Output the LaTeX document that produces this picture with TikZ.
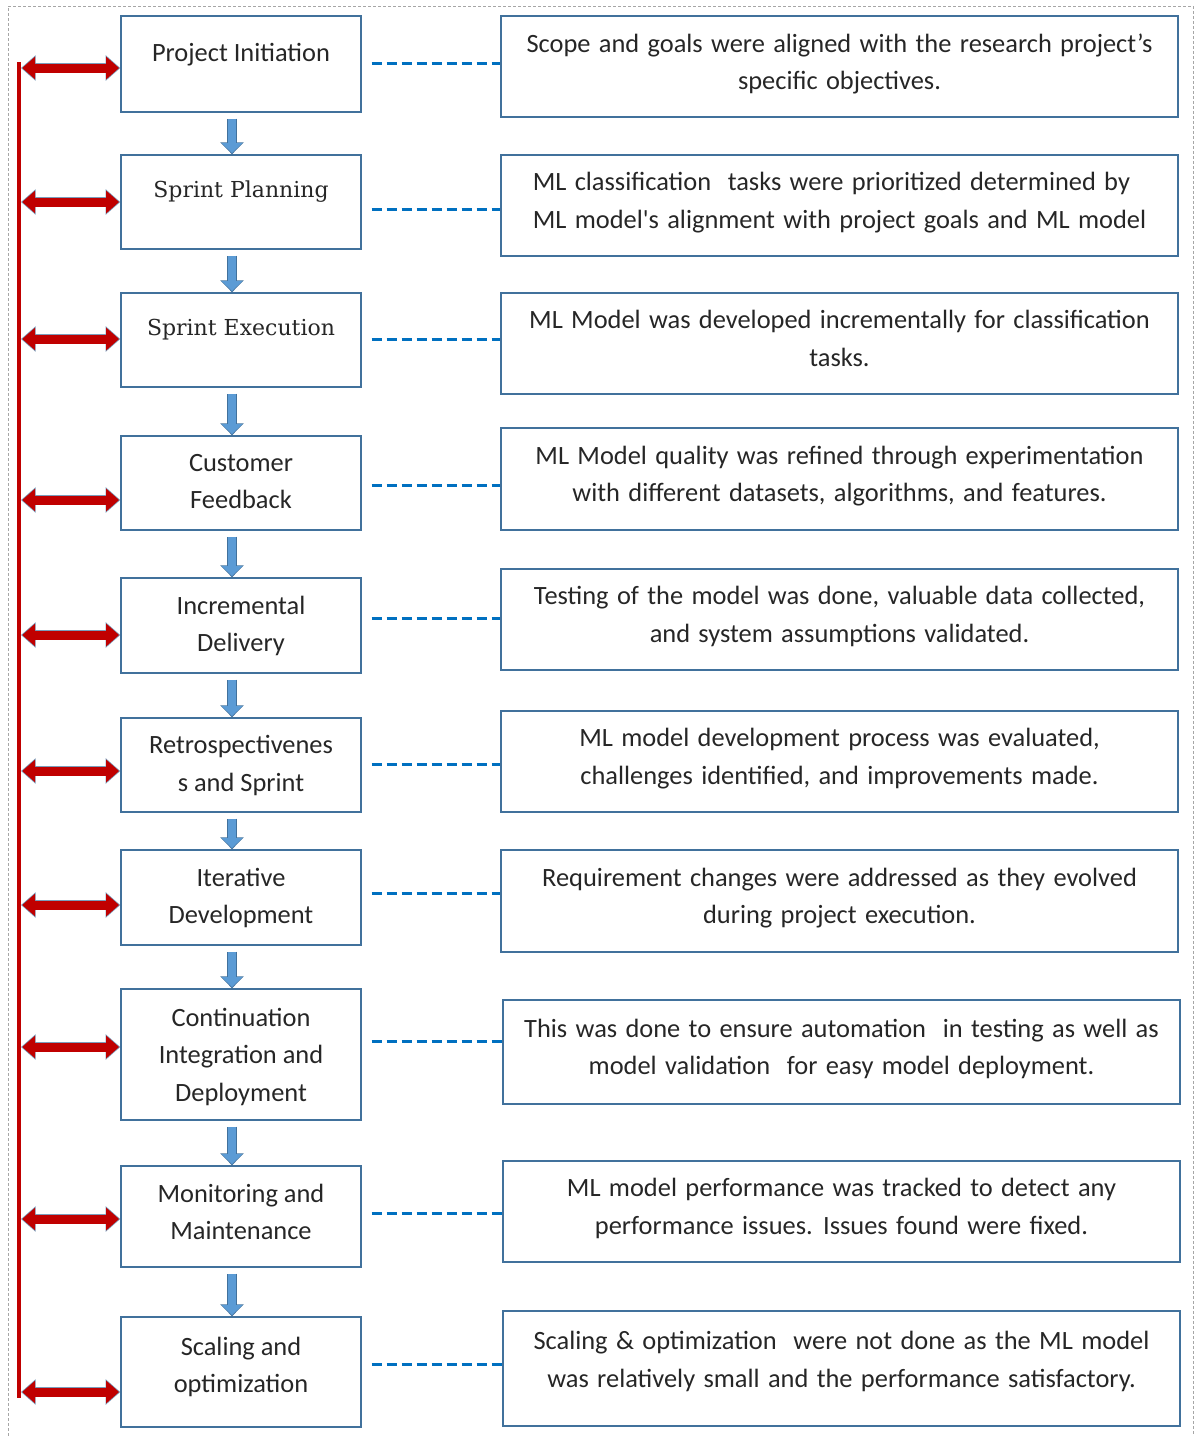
\documentclass[tikz,border=0pt]{standalone}
\usepackage{fontspec}
\setmainfont{Carlito}
\newfontfamily\notefamily{Carlito}[WordSpace={1.4}]
\newfontfamily\headserif{DejaVu Serif}
\usetikzlibrary{arrows.meta,positioning,calc}
\definecolor{BoxBlue}{HTML}{41719C}
\definecolor{LinkBlue}{HTML}{0070C0}
\definecolor{FlowBlue}{HTML}{5B9BD5}
\definecolor{SpineRed}{HTML}{C00000}
\definecolor{TextGray}{HTML}{262626}
\definecolor{FrameGray}{HTML}{A6A6A6}

\begin{document}
\begin{tikzpicture}[x=0.5pt, y=-0.5pt,
    stagebox/.style={draw=BoxBlue, line width=0.7pt, minimum width=120pt, inner sep=0pt,
        align=center, text=TextGray, text depth=1.5pt, font=\fontsize{13.2}{18.75}\selectfont},
    notebox/.style={draw=BoxBlue, line width=0.7pt, minimum width=338.5pt, inner sep=0pt,
        align=center, text=TextGray, text depth=5pt, font=\notefamily\fontsize{13.2}{18.75}\selectfont},
    lift/.style={text depth=#1},
    flowedge/.style={draw=BoxBlue, line width=5pt, -{Triangle[length=6pt, width=11.5pt]}},
    flowarrow/.style={draw=FlowBlue, line width=3.8pt, shorten >=0.6pt,
        -{Triangle[length=5pt, width=10pt]}},
    spineedge/.style={draw=BoxBlue!70, line width=5.3pt,
        {Triangle[length=7.3pt, width=12.3pt]}-{Triangle[length=7.3pt, width=12.3pt]}},
    spinearrow/.style={draw=SpineRed, line width=4.5pt, shorten <=0.6pt, shorten >=0.6pt,
        {Triangle[length=6.5pt, width=11pt]}-{Triangle[length=6.5pt, width=11pt]}},
    linkline/.style={draw=LinkBlue, line width=1.5pt, dash pattern=on 5pt off 2.5pt}]

    \useasboundingbox (0,0) rectangle (1198,1436);

    % Outer frame
    \draw[FrameGray, line width=0.5pt, dash pattern=on 1.5pt off 1pt]
        (8,1436) -- (8,6) -- (1193,6) -- (1193,1436);

    % Stages
    \node[stagebox, minimum height=48pt, lift=12pt] (init) at (241,64) {Project Initiation};
    \node[stagebox, minimum height=47pt, lift=13pt, font=\headserif\fontsize{11}{18}\selectfont] (plan) at (241,202) {Sprint Planning};
    \node[stagebox, minimum height=47pt, lift=13pt, font=\headserif\fontsize{11}{18}\selectfont] (exec) at (241,340) {Sprint Execution};
    \node[stagebox, minimum height=47pt] (feedback) at (241,483) {Customer\\Feedback};
    \node[stagebox, minimum height=47.5pt] (delivery) at (241,625.5) {Incremental\\Delivery};
    \node[stagebox, minimum height=47pt] (retro) at (241,765) {Retrospectivenes\\s and Sprint};
    \node[stagebox, minimum height=47.5pt] (iter) at (241,897.5) {Iterative\\Development};
    \node[stagebox, minimum height=65.5pt, lift=0pt] (ci) at (241,1054.5) {Continuation\\Integration and\\Deployment};
    \node[stagebox, minimum height=50.5pt, lift=4.5pt] (monitor) at (241,1216.5) {Monitoring and\\Maintenance};
    \node[stagebox, minimum height=55pt, lift=7pt] (scale) at (241,1372) {Scaling and\\optimization};

    % Notes
    \node[notebox, minimum height=50.5pt] (initnote) at (839.5,66.5)
        {Scope and goals were aligned with the research project’s\\specific objectives.};
    \node[notebox, minimum height=50.5pt, align=left] (plannote) at (839.5,205.5)
        {ML classification\ \ tasks were prioritized determined by\\ML model\textquotesingle s alignment with project goals and ML model};
    \node[notebox, minimum height=50.5pt] (execnote) at (839.5,343.5)
        {ML Model was developed incrementally for classification\\tasks.};
    \node[notebox, minimum height=51pt] (feedbacknote) at (839.5,479)
        {ML Model quality was refined through experimentation\\with different datasets, algorithms, and features.};
    \node[notebox, minimum height=50.5pt] (deliverynote) at (839.5,619.5)
        {Testing of the model was done, valuable data collected,\\and system assumptions validated.};
    \node[notebox, minimum height=50.5pt] (retronote) at (839.5,761.5)
        {ML model development process was evaluated,\\challenges identified, and improvements made.};
    \node[notebox, minimum height=51pt] (iternote) at (839.5,901)
        {Requirement changes were addressed as they evolved\\during project execution.};
    \node[notebox, minimum height=52pt] (cinote) at (841.5,1052)
        {This was done to ensure automation\ \ in testing as well as\\model validation\ \ for easy model deployment.};
    \node[notebox, minimum height=50.5pt] (monitornote) at (841.5,1211.5)
        {ML model performance was tracked to detect any\\performance issues. Issues found were fixed.};
    \node[notebox, minimum height=57.5pt, lift=9pt] (scalenote) at (841.5,1368.5)
        {Scaling \& optimization\ \ were not done as the ML model\\was relatively small and the performance satisfactory.};

    % Flow between stages
    \foreach \a/\b in {init/plan, plan/exec, exec/feedback, feedback/delivery, delivery/retro,
                       retro/iter, iter/ci, ci/monitor, monitor/scale} {
        \draw[flowedge] ([xshift=-4.5pt, yshift=-3pt]\a.south) -- ([xshift=-4.5pt]\b.north);
        \draw[flowarrow] ([xshift=-4.5pt, yshift=-3.3pt]\a.south) -- ([xshift=-4.5pt]\b.north);
    }

    % Dashed links to notes
    \foreach \a/\y in {init/63, plan/209, exec/339, feedback/485, delivery/618,
                       retro/764, iter/893, ci/1041, monitor/1213, scale/1364}
        \draw[linkline] ($(\a.east |- 0,\y) + (10,0)$) -- (\a note.west |- 0,\y);

    % Feedback spine
    \coordinate (spinetop) at (19,62);
    \coordinate (spinebot) at (19,1398);
    \draw[SpineRed, line width=2pt] (spinetop) -- (spinebot);
    \foreach \a/\y in {init/68, plan/202, exec/339, feedback/500, delivery/635,
                       retro/771, iter/905, ci/1047, monitor/1219, scale/1392} {
        \coordinate (spine-\a) at (21,\y);
        \draw[spineedge] (spine-\a) -- (\a.west |- spine-\a);
        \draw[spinearrow] (spine-\a) -- (\a.west |- spine-\a);
    }

\end{tikzpicture}
\end{document}
